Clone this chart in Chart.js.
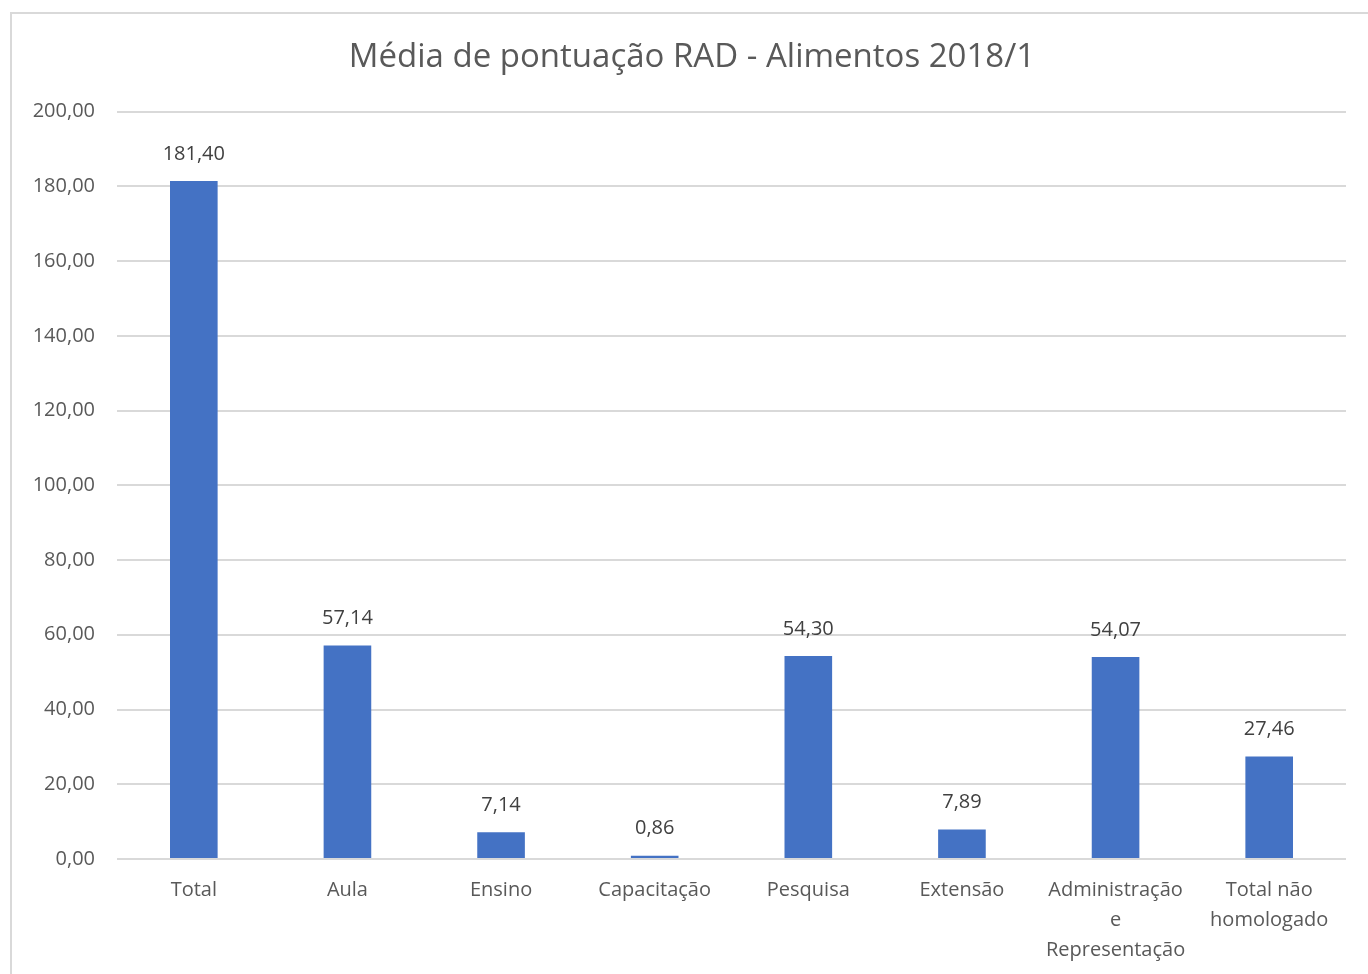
<!DOCTYPE html>
<html>
<head>
<meta charset="utf-8">
<script src="https://cdn.jsdelivr.net/npm/chart.js@4"></script>
<style>
  html, body { margin: 0; padding: 0; background: #fff; overflow: hidden; }
  #box {
    position: absolute; left: 10px; top: 12px;
    width: 1364px; height: 980px;
    border: 2px solid #d9d9d9; box-sizing: border-box;
  }
  #box canvas { display: block; }
</style>
</head>
<body>
<div id="box"><canvas id="chart"></canvas></div>
<script>
// categories and values
const categories = [
    'Total', 'Aula', 'Ensino', 'Capacitação', 'Pesquisa', 'Extensão',
    ['Administração', 'e', 'Representação'], ['Total não', 'homologado']
];
const mediaPontuacao = [181.40, 57.14, 7.14, 0.86, 54.30, 7.89, 54.07, 27.46];
const yTicks = [0, 20, 40, 60, 80, 100, 120, 140, 160, 180, 200];

const fmt = v => v.toFixed(2).replace('.', ',');
const fontFamily = '"Open Sans", "Noto Sans", sans-serif';

// simple value labels above each bar
const barLabels = {
    id: 'barLabels',
    afterDatasetsDraw(chart) {
        const ctx = chart.ctx;
        const meta = chart.getDatasetMeta(0);
        ctx.save();
        ctx.font = '20px ' + fontFamily;
        ctx.fillStyle = '#404040';
        ctx.textAlign = 'center';
        ctx.textBaseline = 'middle';
        meta.data.forEach((bar, i) => {
            ctx.fillText(fmt(mediaPontuacao[i]), bar.x, bar.y - 27);
        });
        ctx.restore();
    }
};

const canvas = document.getElementById('chart');
new Chart(canvas, {
    type: 'bar',
    data: {
        labels: categories,
        datasets: [{
            label: 'Média',
            data: mediaPontuacao,
            backgroundColor: '#4472C4',
            borderWidth: 0,
            categoryPercentage: 1,
            barPercentage: 0.31
        }]
    },
    options: {
        responsive: true,
        maintainAspectRatio: false,
        animation: false,
        layout: { padding: { left: 13, right: 13, top: 0, bottom: 0 } },
        plugins: {
            legend: { display: false },
            tooltip: { enabled: false },
            title: {
                display: true,
                text: 'Média de pontuação RAD - Alimentos 2018/1',
                color: '#595959',
                font: { family: fontFamily, size: 33, weight: 'normal', lineHeight: 1.2 },
                padding: { top: 24, bottom: 34 }
            }
        },
        scales: {
            x: {
                grid: { display: false, drawTicks: false },
                border: { display: false },
                ticks: {
                    color: '#595959',
                    padding: 16,
                    maxRotation: 0,
                    autoSkip: false,
                    font: { family: fontFamily, size: 20, lineHeight: 1.5 }
                },
                afterFit(scale) { scale.height = 131; }
            },
            y: {
                min: 0,
                max: 200,
                afterBuildTicks(scale) { scale.ticks = yTicks.map(v => ({ value: v })); },
                grid: { color: '#d9d9d9', lineWidth: 2, drawTicks: false },
                border: { display: false },
                ticks: {
                    color: '#595959',
                    padding: 22,
                    font: { family: fontFamily, size: 20 },
                    callback: v => fmt(v)
                },
                afterFit(scale) { scale.width = 92; }
            },
            // empty spacer on the right so the title stays centred on the whole box
            spacer: {
                type: 'linear',
                position: 'right',
                grid: { display: false, drawTicks: false },
                border: { display: false },
                ticks: { display: false },
                afterFit(scale) { scale.width = 13; }
            }
        }
    },
    plugins: [barLabels]
});
</script>
</body>
</html>
